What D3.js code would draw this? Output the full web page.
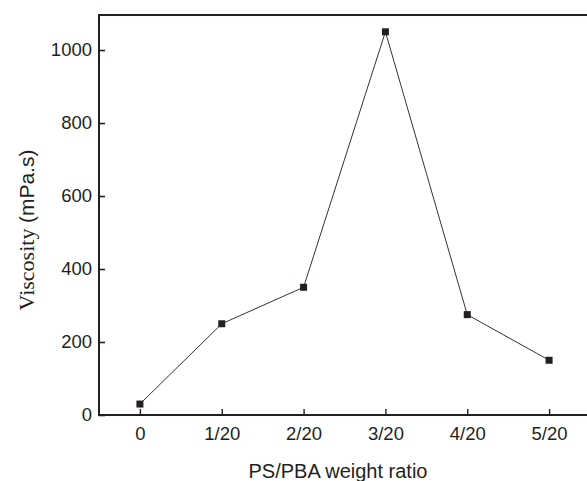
<!DOCTYPE html>
<html><head><meta charset="utf-8">
<script src="https://cdn.jsdelivr.net/npm/d3@7/dist/d3.min.js"></script>
<style>html,body{margin:0;padding:0;background:#fff;overflow:hidden}</style>
</head><body>
<script>
const categories = ["0","1/20","2/20","3/20","4/20","5/20"];
const viscosity = [30, 250, 350, 1050, 275, 150];
const yTicks = [0, 200, 400, 600, 800, 1000];

const W = 587, H = 481;
const m = {left: 99, top: 15, bottom: 415};
const svg = d3.select("body").append("svg").attr("width", W).attr("height", H);

const x = d3.scaleLinear().domain([-0.5, 5.5]).range([99, 590]);
const y = d3.scaleLinear().domain([0, 1096]).range([415, 15]);

const font = "'Liberation Sans', Arial, Helvetica, sans-serif";
const ink = "#231f20";

// y axis (ticks inward)
const yAxis = svg.append("g").attr("transform", `translate(${m.left},0)`)
  .call(d3.axisRight(y).tickValues(yTicks).tickSize(6).tickFormat(d3.format("d")));
yAxis.select(".domain").remove();
yAxis.selectAll(".tick line").attr("stroke", ink).attr("stroke-width", 1.6);
yAxis.selectAll(".tick text").attr("x", -7).attr("text-anchor", "end")
  .attr("font-family", font).attr("font-size", 18.5).attr("fill", ink);

// x axis (ticks inward)
const xAxis = svg.append("g").attr("transform", `translate(0,${m.bottom})`)
  .call(d3.axisTop(x).tickValues(d3.range(categories.length)).tickSize(6).tickFormat(i => categories[i]));
xAxis.select(".domain").remove();
xAxis.selectAll(".tick line").attr("stroke", ink).attr("stroke-width", 1.4);
xAxis.selectAll(".tick text").attr("y", 25).attr("dy", 0)
  .attr("font-family", font).attr("font-size", 18.5).attr("fill", ink);

// frame lines
svg.append("line").attr("x1", 99).attr("x2", 99).attr("y1", 14).attr("y2", 416)
  .attr("stroke", ink).attr("stroke-width", 2);
svg.append("line").attr("x1", 98).attr("x2", 590).attr("y1", 415).attr("y2", 415)
  .attr("stroke", ink).attr("stroke-width", 2);
svg.append("line").attr("x1", 98).attr("x2", 590).attr("y1", 15).attr("y2", 15)
  .attr("stroke", ink).attr("stroke-width", 2);

// data line
const pts = viscosity.map((v, i) => [x(i), y(v)]);
svg.append("path").attr("d", d3.line()(pts)).attr("fill", "none")
  .attr("stroke", "#333").attr("stroke-width", 1);
svg.selectAll("rect.pt").data(viscosity).join("rect").attr("class", "pt")
  .attr("x", (d, i) => x(i) - 3.5).attr("y", d => y(d) - 3.5)
  .attr("width", 7).attr("height", 7).attr("fill", ink);

// axis titles
svg.append("text").attr("x", 338).attr("y", 478).attr("text-anchor", "middle")
  .attr("font-family", font).attr("font-size", 20).attr("fill", ink)
  .text("PS/PBA weight ratio");
const yt = svg.append("text").attr("transform", "translate(34,230) rotate(-90)")
  .attr("text-anchor", "middle").attr("fill", ink).attr("font-size", 22);
yt.append("tspan").attr("font-family", "'Liberation Serif', 'Times New Roman', serif").text("Viscosity ");
yt.append("tspan").attr("font-family", font).attr("font-size", 21).text("(mPa.s)");
</script>
</body></html>
